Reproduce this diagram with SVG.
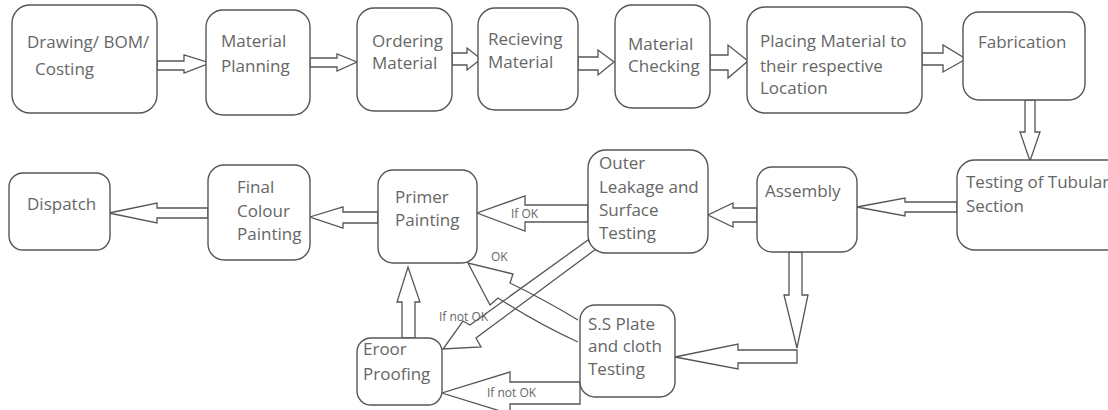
<svg xmlns="http://www.w3.org/2000/svg" width="1108" height="410" viewBox="0 0 1108 410">
<style>
.box{fill:#fff;stroke:#555;stroke-width:1.4}
.t{font-family:"Open Sans","Liberation Sans",sans-serif;font-size:17px;fill:#666}
.s{font-family:"Open Sans","Liberation Sans",sans-serif;font-size:12px;fill:#666}
.arr{fill:#fff;stroke:#555;stroke-width:1.3;stroke-linejoin:miter}
.ln{fill:none;stroke:#555;stroke-width:1.3}
</style>
<rect width="1108" height="410" fill="#fff"/>
<g id="connectors">
<polygon class="arr" points="157,61 184,61 184,55 210,63 184,73 184,70 157,70"/>
<polygon class="arr" points="310,58 337,58 337,54 357,62 337,71 337,67 310,67"/>
<polygon class="arr" points="452,53 467,53 467,48 481,59 467,70 467,65 452,65"/>
<polygon class="arr" points="578,57 598,57 598,50 614,62 598,75 598,70 578,70"/>
<polygon class="arr" points="710,55 728,55 728,45 748,61 728,78 728,70 710,70"/>
<polygon class="arr" points="922,53 943,53 943,45 966,59 943,72 943,65 922,65"/>
<polygon class="arr" points="1025,100 1025,132 1020,132 1030,161 1040,132 1035,132 1035,100"/>
<polygon class="arr" points="957,202 905,202 905,198 857,207 905,216 905,212 957,212"/>
<polygon class="arr" points="757,208 733,208 733,203 708,215 733,227 733,222 757,222"/>
<polygon class="arr" points="588,205 525,205 525,196 477,213 525,231 525,222 588,222"/>
<polygon class="arr" points="378,212 343,212 343,207 310,217 343,228 343,223 378,223"/>
<polygon class="arr" points="208,208 157,208 157,203 109,213 157,223 157,218 208,218"/>
<polygon class="arr" points="789,252 789,295 784,295 797,348 808,295 802,295 802,252"/>
<polygon class="arr" points="797,350 738,350 738,344 675,357 738,369 738,363 797,363"/>
<polygon class="arr" points="402,338 402,302 397,302 408,267 420,302 415,302 415,338"/>
<polygon class="arr" points="580,382 510,382 510,372 442,393 510,414 510,404 580,404"/>
<polygon class="ln" points="588,240 470,325 463,321 443,349 481,347 476,338 596,249"/>
<path class="ln" d="M578,320 Q545,300 510,283 L513,274 L468,263 L490,305 L498,298 Q540,325 578,342"/>
<text class="s" x="511" y="218">If OK</text>
<text class="s" x="491" y="261">OK</text>
<text class="s" x="439" y="321">If not OK</text>
<text class="s" x="487" y="397">If not OK</text>
</g>
<g id="n1"><rect class="box" x="12" y="5" width="145" height="108" rx="18"/><text class="t"><tspan x="27" y="48">Drawing/ BOM/</tspan><tspan x="35" y="75">Costing</tspan></text></g>
<g id="n2"><rect class="box" x="206" y="10" width="104" height="105" rx="17"/><text class="t"><tspan x="221" y="47">Material</tspan><tspan x="221" y="72">Planning</tspan></text></g>
<g id="n3"><rect class="box" x="357" y="8" width="95" height="103" rx="17"/><text class="t"><tspan x="372" y="47">Ordering</tspan><tspan x="372" y="69">Material</tspan></text></g>
<g id="n4"><rect class="box" x="478" y="8" width="100" height="102" rx="17"/><text class="t"><tspan x="488" y="45">Recieving</tspan><tspan x="488" y="68">Material</tspan></text></g>
<g id="n5"><rect class="box" x="615" y="5" width="95" height="103" rx="17"/><text class="t"><tspan x="628" y="50">Material</tspan><tspan x="628" y="72">Checking</tspan></text></g>
<g id="n6"><rect class="box" x="747" y="7" width="175" height="106" rx="18"/><text class="t"><tspan x="760" y="47">Placing Material to</tspan><tspan x="760" y="72">their respective</tspan><tspan x="760" y="94">Location</tspan></text></g>
<g id="n7"><rect class="box" x="963" y="12" width="122" height="88" rx="16"/><text class="t"><tspan x="978" y="48">Fabrication</tspan></text></g>
<g id="n8"><rect class="box" x="957" y="160" width="175" height="90" rx="18"/><text class="t"><tspan x="966" y="188">Testing of Tubular</tspan><tspan x="966" y="212">Section</tspan></text></g>
<g id="n9"><rect class="box" x="757" y="167" width="100" height="85" rx="15"/><text class="t"><tspan x="765" y="197">Assembly</tspan></text></g>
<g id="n10"><rect class="box" x="588" y="150" width="120" height="103" rx="18"/><text class="t"><tspan x="599" y="169">Outer</tspan><tspan x="599" y="193">Leakage and</tspan><tspan x="599" y="216">Surface</tspan><tspan x="599" y="239">Testing</tspan></text></g>
<g id="n11"><rect class="box" x="378" y="170" width="99" height="93" rx="15"/><text class="t"><tspan x="395" y="203">Primer</tspan><tspan x="395" y="226">Painting</tspan></text></g>
<g id="n12"><rect class="box" x="208" y="165" width="102" height="95" rx="16"/><text class="t"><tspan x="237" y="193">Final</tspan><tspan x="237" y="217">Colour</tspan><tspan x="237" y="240">Painting</tspan></text></g>
<g id="n13"><rect class="box" x="9" y="173" width="101" height="77" rx="14"/><text class="t"><tspan x="27" y="210">Dispatch</tspan></text></g>
<g id="n14"><rect class="box" x="357" y="338" width="85" height="67" rx="14"/><text class="t"><tspan x="363" y="355">Eroor</tspan><tspan x="363" y="380">Proofing</tspan></text></g>
<g id="n15"><rect class="box" x="580" y="305" width="95" height="92" rx="15"/><text class="t"><tspan x="588" y="330">S.S Plate</tspan><tspan x="588" y="352">and cloth</tspan><tspan x="588" y="375">Testing</tspan></text></g>
</svg>
